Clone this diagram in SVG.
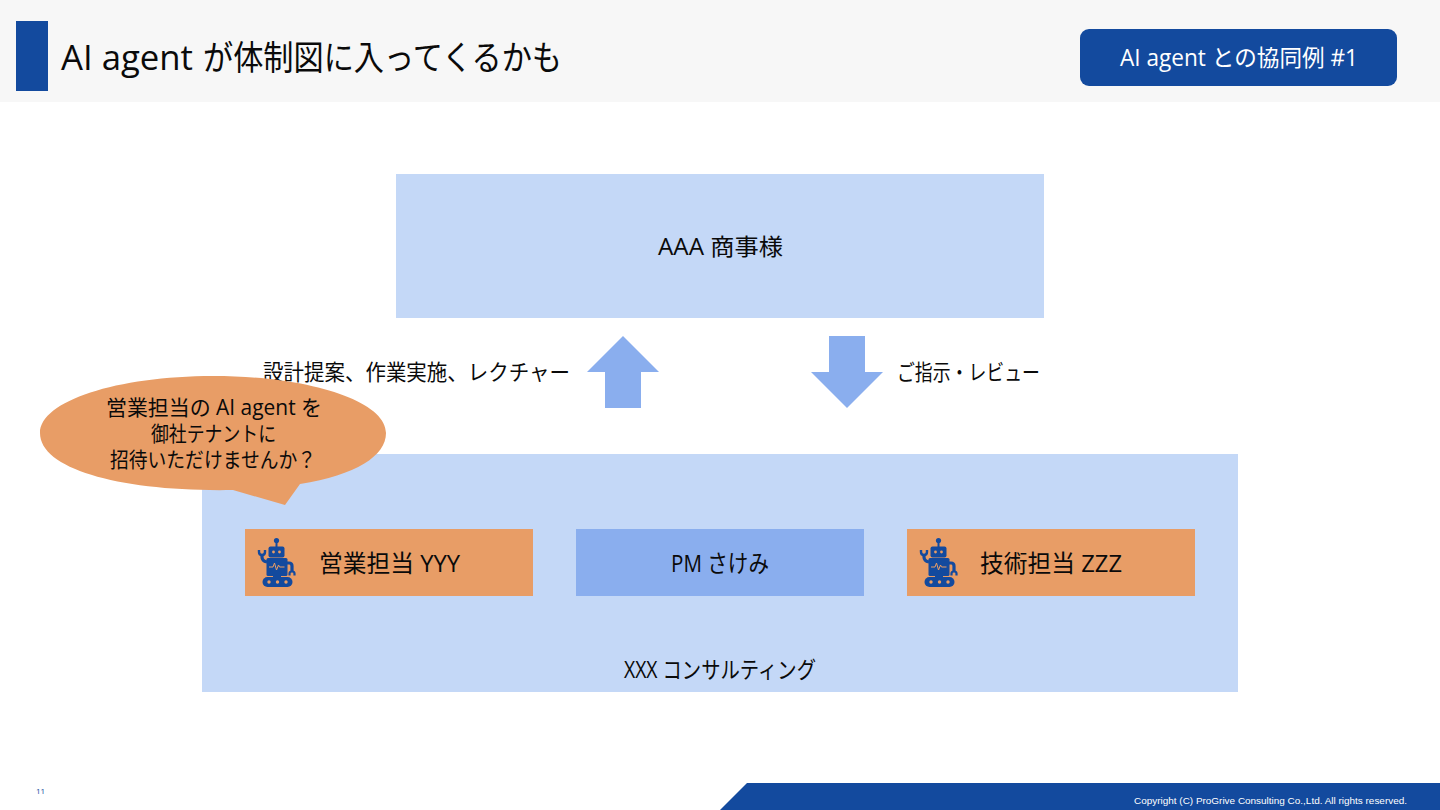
<svg xmlns="http://www.w3.org/2000/svg" width="1440" height="810" viewBox="0 0 1440 810">
<style>
text{font-family:"Open Sans","Noto Sans CJK JP","Noto Sans",sans-serif;fill:#0a0a0a;text-anchor:start}
.blue{fill:#134a9e}.light{fill:#c4d8f7}.mid{fill:#8aaeee}.orange{fill:#e89d66}
</style>
<defs>
<g id="robot">
<g class="blue">
<circle cx="18.500" cy="2.500" r="2.600"/><rect x="17.500" y="3" width="2" height="6"/>
<rect x="10.500" y="8.500" width="16" height="11" rx="2"/>
<rect x="8.500" y="20" width="21" height="18" rx="1.500"/>
<rect x="15" y="37" width="8" height="3"/>
<rect x="4.500" y="39" width="30" height="10" rx="5"/>
</g>
<circle cx="15.500" cy="14" r="1.400" fill="#e89d66"/><circle cx="21.500" cy="14" r="1.400" fill="#e89d66"/>
<path d="M11 29h4l1.500-4 2 7 2-5 1 2h5" fill="none" stroke="#e89d66" stroke-width="1"/>
<circle cx="11" cy="44" r="1.700" fill="#e89d66"/><circle cx="19.500" cy="44" r="1.700" fill="#e89d66"/><circle cx="28" cy="44" r="1.700" fill="#e89d66"/>
<path d="M4 16v3q0 4 5 5" fill="none" stroke="#134a9e" stroke-width="3.200"/>
<path d="M1 12v2q0 3 3 3t3-3v-2" fill="none" stroke="#134a9e" stroke-width="2.400"/>
<path d="M29 25h2q3 0 3 3v6" fill="none" stroke="#134a9e" stroke-width="3.200"/>
<path d="M31.500 37.500v-2q0-2 2.500-2t2.500 2v2" fill="none" stroke="#134a9e" stroke-width="2.200"/>
</g>
</defs>
<g id="header">
<rect width="1440" height="102" fill="#f7f7f7"/>
<rect x="16" y="21" width="32" height="70" class="blue"/>
<text y="70" font-size="34"><tspan x="61" textLength="132" lengthAdjust="spacingAndGlyphs">AI agent</tspan><tspan x="203" textLength="359" lengthAdjust="spacingAndGlyphs">が体制図に入ってくるかも</tspan></text>
</g>
<g id="badge">
<rect x="1080" y="29" width="317" height="57" rx="9" class="blue"/>
<text x="1120" y="66" font-size="23" style="fill:#fff" textLength="238" lengthAdjust="spacingAndGlyphs">AI agent との協同例 #1</text>
</g>
<g id="client">
<rect x="396" y="174" width="648" height="144" class="light"/>
<text x="658" y="255" font-size="23" textLength="125" lengthAdjust="spacingAndGlyphs">AAA 商事様</text>
</g>
<g id="connectors">
<polygon points="623,336 659,372 641,372 641,408 605,408 605,372 587,372" class="mid"/>
<polygon points="829,336 865,336 865,372 883,372 847,408 811,372 829,372" class="mid"/>
<text x="263" y="380" font-size="21.500" textLength="307" lengthAdjust="spacingAndGlyphs">設計提案、作業実施、レクチャー</text>
<text x="897" y="380" font-size="21.500" textLength="143" lengthAdjust="spacingAndGlyphs">ご指示・レビュー</text>
</g>
<g id="consulting">
<rect x="202" y="454" width="1036" height="238" class="light"/>
<text x="624" y="678" font-size="23" textLength="192" lengthAdjust="spacingAndGlyphs">XXX コンサルティング</text>
</g>
<g id="sales">
<rect x="245" y="529" width="288" height="67" class="orange"/>
<use href="#robot" x="258" y="538"/>
<text x="319" y="572" font-size="23.500" textLength="141" lengthAdjust="spacingAndGlyphs">営業担当 YYY</text>
</g>
<g id="pm">
<rect x="576" y="529" width="288" height="67" class="mid"/>
<text x="671" y="572" font-size="23.500" textLength="98" lengthAdjust="spacingAndGlyphs">PM さけみ</text>
</g>
<g id="tech">
<rect x="907" y="529" width="288" height="67" class="orange"/>
<use href="#robot" x="920" y="538"/>
<text x="980" y="572" font-size="23.500" textLength="142" lengthAdjust="spacingAndGlyphs">技術担当 ZZZ</text>
</g>
<g id="callout">
<path d="M40 433C40 401 117 376 213 376S386 401 386 433C386 456 356 475 300 484L285 505L233 490C124 492 40 470 40 433Z" class="orange"/>
<text x="106" y="415" font-size="21" textLength="216" lengthAdjust="spacingAndGlyphs">営業担当の AI agent を</text>
<text x="151" y="441" font-size="21" textLength="125" lengthAdjust="spacingAndGlyphs">御社テナントに</text>
<text x="110" y="467" font-size="21" textLength="206" lengthAdjust="spacingAndGlyphs">招待いただけませんか？</text>
</g>
<g id="footer">
<text x="36" y="794" font-size="8" style="fill:#134a9e">11</text>
<polygon points="747,783 1440,783 1440,810 720,810" class="blue"/>
<text x="1134" y="804" font-size="9.500" style="fill:#fff;font-family:'Liberation Sans',sans-serif" textLength="273" lengthAdjust="spacingAndGlyphs">Copyright (C) ProGrive Consulting Co.,Ltd. All rights reserved.</text>
</g>
</svg>
